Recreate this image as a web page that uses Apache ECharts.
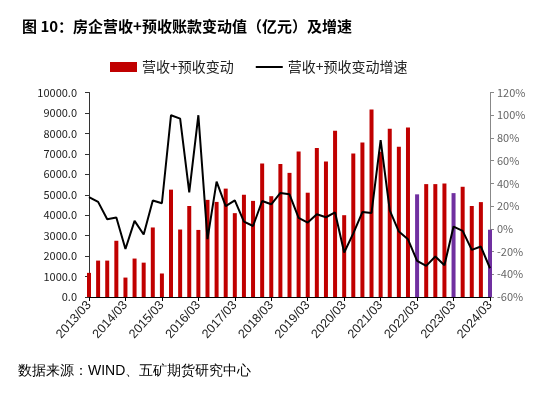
<!DOCTYPE html>
<html><head><meta charset="utf-8">
<script src="https://cdn.jsdelivr.net/npm/echarts@6/dist/echarts.min.js"></script>
<style>html,body{margin:0;padding:0;background:#fff}#c{width:558px;height:394px}</style>
</head><body><div id="c"></div>
<script>
var categories = ['2013/03','2013/06','2013/09','2013/12','2014/03','2014/06','2014/09','2014/12','2015/03','2015/06','2015/09','2015/12','2016/03','2016/06','2016/09','2016/12','2017/03','2017/06','2017/09','2017/12','2018/03','2018/06','2018/09','2018/12','2019/03','2019/06','2019/09','2019/12','2020/03','2020/06','2020/09','2020/12','2021/03','2021/06','2021/09','2021/12','2022/03','2022/06','2022/09','2022/12','2023/03','2023/06','2023/09','2023/12','2024/03'];
var changeValues = [1180,1780,1780,2750,950,1880,1680,3400,1150,5250,3300,4450,3280,4750,4650,5300,4100,5000,4700,6530,4930,6500,6070,7120,5100,7280,6630,8130,4000,7020,7560,9170,7100,8230,7350,8290,5020,5520,5520,5550,5080,5390,4450,4640,3290];
var growthRates = [28,23.7,8.4,9.9,-17.7,7,-5,25,22.5,100,97,32,100,-9,41.5,20,25,6.3,2.5,24.5,21.6,31.6,30.4,9.6,5.5,12.8,10.2,14.4,-20.8,-4,14.8,14,78,16.2,-2.4,-9.2,-28.2,-32.6,-24.4,-32,2,-1.8,-18.5,-15.6,-34.7];
var highlightQuarters = ['2022/03','2023/03','2024/03'];
var leftTicks = {min:0, max:10000, interval:1000};
var rightTicks = {min:-60, max:120, interval:20};

var RED = '#C00000', PURPLE = '#7030A0';
var barData = changeValues.map(function(v,i){
  return highlightQuarters.indexOf(categories[i]) >= 0 ? {value:v, itemStyle:{color:PURPLE}} : v;
});
var FONT = '"Noto Sans CJK SC", "Liberation Sans", sans-serif';
var chart = echarts.init(document.getElementById('c'), null, {renderer:'canvas'});
chart.setOption({
  animation:false,
  backgroundColor:'#fff',
  textStyle:{fontFamily:FONT},
  title:{text:'图 10：房企营收+预收账款变动值（亿元）及增速', left:17, top:14,
    textStyle:{fontSize:15, fontWeight:'bold', color:'#000', fontFamily:FONT}},
  legend:{top:55, left:105, itemGap:22, itemWidth:27, itemHeight:10,
    textStyle:{fontSize:14, color:'#222', fontFamily:FONT},
    data:[{name:'营收+预收变动', icon:'rect'},
          {name:'营收+预收变动增速', icon:'path://M0,0 L27,0 L27,2 L0,2 Z', itemStyle:{color:'#000'}}]},
  graphic:[{type:'text', left:18, top:364, style:{text:'数据来源：WIND、五矿期货研究中心', fontSize:14, fill:'#000', font:'14px '+FONT}}],
  grid:{left:89, right:68, top:92.5, bottom:97, containLabel:false},
  xAxis:{type:'category', data:categories, boundaryGap:false,
    axisLine:{lineStyle:{color:'#000', width:1}},
    axisTick:{show:true, interval:3, length:4, lineStyle:{color:'#000'}},
    axisLabel:{interval:3, rotate:48, fontSize:12.5, color:'#222', margin:6, fontFamily:'"Liberation Sans", Arial, sans-serif'},
    splitLine:{show:false}},
  yAxis:[
    {type:'value', min:leftTicks.min, max:leftTicks.max, interval:leftTicks.interval,
      axisLine:{show:true, lineStyle:{color:'#333'}},
      axisTick:{show:true, length:4, lineStyle:{color:'#333'}},
      axisLabel:{fontSize:11, color:'#222', margin:12, formatter:function(v){return v.toFixed(1);}, fontFamily:FONT},
      splitLine:{show:false}},
    {type:'value', min:rightTicks.min, max:rightTicks.max, interval:rightTicks.interval, position:'right',
      axisLine:{show:true, lineStyle:{color:'#888'}},
      axisTick:{show:true, length:4, lineStyle:{color:'#888'}},
      axisLabel:{fontSize:11, color:'#666', margin:7, formatter:function(v){return v+'%';}, fontFamily:FONT},
      splitLine:{show:false}}
  ],
  series:[
    {name:'营收+预收变动', type:'bar', yAxisIndex:0, data:barData, barWidth:4,
      itemStyle:{color:RED}},
    {name:'营收+预收变动增速', type:'line', yAxisIndex:1, data:growthRates, symbol:'none',
      lineStyle:{color:'#000', width:2}, itemStyle:{color:'#000'}}
  ]
});
</script></body></html>
